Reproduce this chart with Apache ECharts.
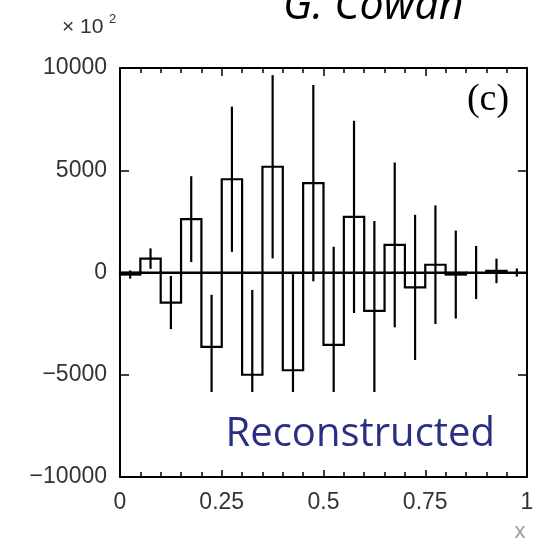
<!DOCTYPE html>
<html>
<head>
    <meta charset="utf-8" />
    <title>Reconstructed</title>
    <script src="https://cdn.jsdelivr.net/npm/echarts@6/dist/echarts.min.js"></script>
    <style>
        html, body { margin: 0; padding: 0; background: #fff; }
        #chart1 { width: 539px; height: 544px; }
    </style>
</head>
<body>
    <div id="chart1"></div>
    <script type="text/javascript">
        // histogram bins (lower edge), bin width 0.05
        var binLow = [0, 0.05, 0.1, 0.15, 0.2, 0.25, 0.3, 0.35, 0.4, 0.45,
                      0.5, 0.55, 0.6, 0.65, 0.7, 0.75, 0.8, 0.85, 0.9, 0.95];
        var binWidth = 0.05;
        // reconstructed contents and errors (units of 10^2)
        var values = [-100, 680, -1470, 2610, -3640, 4560, -5000, 5170, -4780, 4370,
                      -3540, 2720, -1880, 1350, -730, 380, -100, 0, 80, 0];
        var errors = [200, 500, 1300, 2100, 2550, 3550, 4150, 4480, 4700, 4800,
                      4800, 4700, 4400, 4030, 3550, 2900, 2150, 1300, 600, 200];
        var xTicks = [0, 0.25, 0.5, 0.75, 1];
        var yTicks = [-10000, -5000, 0, 5000, 10000];

        var histData = [];
        for (var i = 0; i < binLow.length; i++) {
            histData.push([binLow[i], binLow[i] + binWidth, values[i], errors[i]]);
        }

        var labelFont = { fontFamily: 'Liberation Sans', fontSize: 23, color: '#333' };

        function renderBin(params, api) {
            var x0 = api.value(0), x1 = api.value(1), v = api.value(2), e = api.value(3);
            var xc = (x0 + x1) / 2;
            var p0 = api.coord([x0, 0]);
            var p1 = api.coord([x1, v]);
            var top = api.coord([xc, v + e]);
            var bot = api.coord([xc, v - e]);
            return {
                type: 'group',
                children: [
                    {
                        type: 'rect',
                        shape: { x: p0[0], y: Math.min(p0[1], p1[1]), width: p1[0] - p0[0], height: Math.abs(p1[1] - p0[1]) },
                        style: { fill: 'none', stroke: '#000', lineWidth: 2.2 }
                    },
                    {
                        type: 'line',
                        shape: { x1: top[0], y1: top[1], x2: bot[0], y2: bot[1] },
                        style: { stroke: '#000', lineWidth: 2.2 }
                    }
                ]
            };
        }

        function frameAxis(pos, extra) {
            var isX = (pos === 'top' || pos === 'bottom');
            var ax = {
                type: 'value',
                position: pos,
                min: isX ? 0 : -10000,
                max: isX ? 1 : 10000,
                interval: isX ? 0.25 : 5000,
                axisLine: { show: true, onZero: false, lineStyle: { color: '#000', width: 2 } },
                axisTick: { inside: true, length: isX ? 8 : 9, lineStyle: { color: '#000', width: 1.5 } },
                minorTick: { show: isX, splitNumber: 5, length: 5, lineStyle: { color: '#000', width: 1.5 } },
                axisLabel: { show: false },
                splitLine: { show: false }
            };
            return Object.assign(ax, extra || {});
        }

        var myChart1 = echarts.init(document.getElementById('chart1'));
        var option = {
            animation: false,
            grid: { left: 120, right: 12, top: 68, bottom: 67 },
            xAxis: [
                frameAxis('bottom', {
                    axisLabel: Object.assign({ show: true, margin: 14, formatter: function (v) { return xTicks.indexOf(v) >= 0 ? String(v) : ''; } }, labelFont)
                }),
                frameAxis('top')
            ],
            yAxis: [
                frameAxis('left', {
                    axisLabel: Object.assign({ show: true, margin: 13, formatter: function (v) { return yTicks.indexOf(v) >= 0 ? String(v).replace('-', '\u2212') : ''; } }, labelFont)
                }),
                frameAxis('right')
            ],
            series: [
                {
                    type: 'custom',
                    renderItem: renderBin,
                    encode: { x: [0, 1], y: [2] },
                    data: histData,
                    markLine: {
                        silent: true, symbol: 'none', animation: false,
                        label: { show: false },
                        lineStyle: { color: '#000', width: 2, type: 'solid' },
                        data: [{ yAxis: 0 }]
                    }
                }
            ],
            graphic: [
                {
                    type: 'text', z: 100, x: 283, y: 7,
                    style: { text: 'G. Cowan', font: 'italic 43px "Open Sans"', fill: '#000', align: 'left', textAlign: 'left', verticalAlign: 'middle', textVerticalAlign: 'middle' }
                },
                {
                    type: 'text', z: 100, x: 62, y: 27,
                    style: { text: '\u00d7 10', font: '21px "Liberation Sans"', fill: '#333', align: 'left', textAlign: 'left', verticalAlign: 'middle', textVerticalAlign: 'middle' }
                },
                {
                    type: 'text', z: 100, x: 109, y: 19,
                    style: { text: '2', font: '13px "Liberation Sans"', fill: '#333', align: 'left', textAlign: 'left', verticalAlign: 'middle', textVerticalAlign: 'middle' }
                },
                {
                    type: 'text', z: 100, x: 488, y: 100,
                    style: { text: '(c)', font: '38px "Liberation Serif"', fill: '#000', align: 'center', textAlign: 'center', verticalAlign: 'middle', textVerticalAlign: 'middle' }
                },
                {
                    type: 'rect', z: 100, shape: { x: 140, y: 392, width: 384, height: 78 },
                    style: { fill: '#fff' }
                },
                {
                    type: 'text', z: 101, x: 495, y: 435,
                    style: { text: 'Reconstructed', font: '40px "Open Sans"', fill: '#2b2f84', align: 'right', textAlign: 'right', verticalAlign: 'middle', textVerticalAlign: 'middle' }
                },
                {
                    type: 'text', z: 100, x: 520, y: 532,
                    style: { text: 'x', font: '22px "Liberation Sans"', fill: '#999', align: 'center', textAlign: 'center', verticalAlign: 'middle', textVerticalAlign: 'middle' }
                }
            ]
        };
        myChart1.setOption(option);
    </script>
</body>
</html>
